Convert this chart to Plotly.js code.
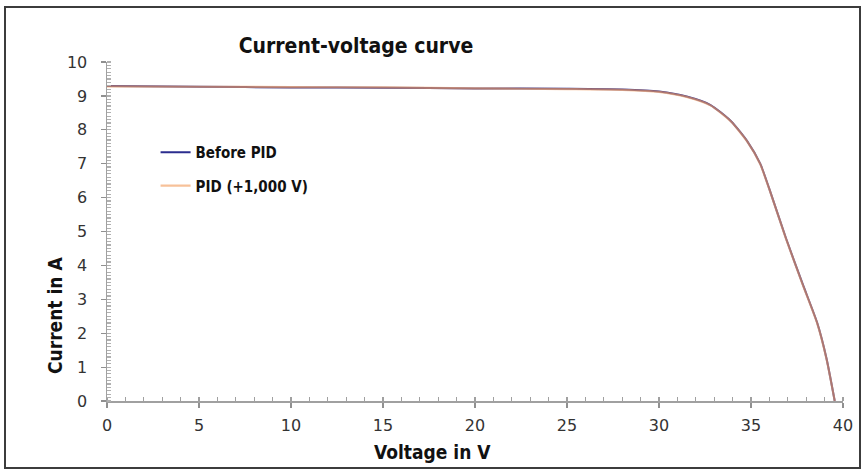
<!DOCTYPE html>
<html>
<head>
<meta charset="utf-8">
<script src="https://cdn.plot.ly/plotly-3.0.1.min.js"></script>
<style>html,body{margin:0;padding:0;background:#fff;}#chart{width:862px;height:470px;}</style>
</head>
<body>
<div id="chart"></div>
<script>
// Data
const voltage = [0, 5, 10, 15, 20, 25, 28, 30, 31.5, 32.8, 33.9, 34.8, 35.5, 36.0, 36.9, 37.8, 38.6, 39.1, 39.55];
const currentBefore = [9.29, 9.27, 9.25, 9.24, 9.22, 9.21, 9.19, 9.13, 8.98, 8.73, 8.26, 7.66, 7.0, 6.25, 4.8, 3.46, 2.3, 1.26, 0];
const currentPID = [9.28, 9.27, 9.26, 9.25, 9.22, 9.20, 9.18, 9.12, 8.97, 8.72, 8.25, 7.65, 6.99, 6.24, 4.79, 3.45, 2.29, 1.25, 0];
const seriesNames = ["Before PID", "PID (+1,000 V)"];
const xTicks = [0, 5, 10, 15, 20, 25, 30, 35, 40];
const yTicks = [0, 1, 2, 3, 4, 5, 6, 7, 8, 9, 10];
const chartTitle = "Current-voltage curve";
const xTitle = "Voltage in V";
const yTitle = "Current in A";

const narrow = '"Liberation Sans Narrow", "DejaVu Sans Condensed", "Roboto Condensed", Arial, sans-serif';
const tickFont = {family: '"DejaVu Sans", Verdana, sans-serif', size: 16, color: '#333'};

const traces = [
  {x: voltage, y: currentBefore, name: seriesNames[0], type: 'scatter', mode: 'lines',
   line: {color: '#2b2d8e', width: 2, shape: 'spline', smoothing: 0.6}, legendgroup: 'a'},
  {x: voltage, y: currentPID, name: seriesNames[1], type: 'scatter', mode: 'lines',
   line: {color: '#f2a062', width: 2.2, shape: 'spline', smoothing: 0.6}, opacity: 0.65, legendgroup: 'b'}
];

const layout = {
  width: 862, height: 470,
  margin: {l: 107, r: 19, t: 62, b: 69},
  paper_bgcolor: '#fff', plot_bgcolor: '#fff',
  showlegend: true,
  legend: {x: 0.066, xanchor: 'left', y: 0.782, yanchor: 'top', bgcolor: 'rgba(0,0,0,0)',
           font: {family: narrow, size: 15, color: '#111', weight: 'bold'}, tracegroupgap: 11},
  title: {text: '<b>' + chartTitle + '</b>', x: (356 - 107) / 736, xanchor: 'center', xref: 'paper',
          y: 0.903, yanchor: 'middle', yref: 'container',
          font: {family: narrow, size: 21, color: '#111'}},
  xaxis: {range: [0, 40], tickvals: xTicks, ticktext: xTicks.map(String), showgrid: false, zeroline: false,
          showline: true, linecolor: '#a0a0a0', linewidth: 1.5,
          ticks: 'outside', ticklen: 5, tickcolor: '#909090', tickwidth: 1.2,
          minor: {dtick: 1, ticks: 'inside', ticklen: 4, tickcolor: '#a0a0a0', showgrid: false},
          tickfont: tickFont, ticklabelstandoff: 4, fixedrange: true},
  yaxis: {range: [0, 10], tickvals: yTicks, ticktext: yTicks.map(String), showgrid: false, zeroline: false,
          showline: true, linecolor: '#a0a0a0', linewidth: 1.5,
          ticks: 'outside', ticklen: 5, tickcolor: '#909090', tickwidth: 1.2,
          minor: {dtick: 0.1, ticks: 'inside', ticklen: 4, tickcolor: '#b0b0b0', showgrid: false},
          tickfont: tickFont, ticklabelstandoff: 10, fixedrange: true},
  annotations: [
    {text: '<b>' + xTitle + '</b>', xref: 'paper', yref: 'paper', x: (432 - 107) / 736, y: (401 - 452) / 339,
     xanchor: 'center', yanchor: 'middle', showarrow: false, font: {family: narrow, size: 19, color: '#111'}},
    {text: '<b>' + yTitle + '</b>', xref: 'paper', yref: 'paper', x: (55 - 107) / 736, y: (401 - 316) / 339,
     xanchor: 'center', yanchor: 'middle', textangle: -90, showarrow: false, font: {family: narrow, size: 19, color: '#111'}}
  ],
  shapes: [
    {type: 'rect', xref: 'paper', yref: 'paper', x0: (5 - 107) / 736, x1: (860 - 107) / 736,
     y0: (401 - 468) / 339, y1: (401 - 7) / 339, line: {color: '#3c3c3c', width: 2}, fillcolor: 'rgba(0,0,0,0)', layer: 'below'}
  ]
};

Plotly.newPlot('chart', traces, layout, {displayModeBar: false, staticPlot: true});
</script>
</body>
</html>
